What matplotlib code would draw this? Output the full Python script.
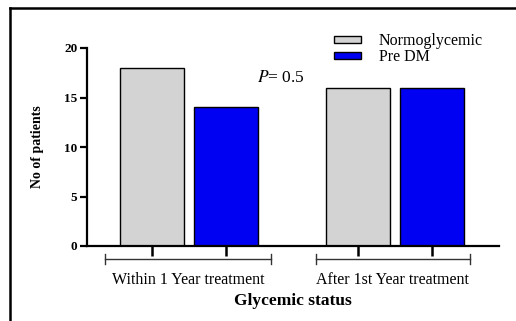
import numpy as np
import matplotlib.pyplot as plt
from matplotlib.lines import Line2D
from matplotlib.transforms import blended_transform_factory

plt.rcParams['font.family'] = ['Liberation Serif', 'DejaVu Serif']
plt.rcParams['mathtext.fontset'] = 'stix'

groups = ['Within 1 Year treatment', 'After 1st Year treatment']
series = ['Normoglycemic', 'Pre DM']
normo = [18, 16]
pre_dm = [14, 16]
colors = ['#d3d3d3', '#0000f2']
p_text = '0.5'

fig = plt.figure(figsize=(5.16, 3.21), dpi=100)
ax = fig.add_axes([87/516, 1 - 246/321, (499 - 87)/516, (246 - 48)/321])

x = np.arange(len(groups))
w = 0.31
off = 0.18
ax.bar(x - off, normo, w, color=colors[0], edgecolor='black', linewidth=1, label=series[0])
ax.bar(x + off, pre_dm, w, color=colors[1], edgecolor='black', linewidth=1, label=series[1])

ax.set_xlim(-0.495, 1.505)
ax.set_ylim(0, 20)
ax.set_yticks([0, 5, 10, 15, 20])
for s in ['top', 'right']:
    ax.spines[s].set_visible(False)
for s in ['left', 'bottom']:
    ax.spines[s].set_linewidth(1.6)
ax.tick_params(axis='y', length=5, width=1.6, labelsize=9.5, pad=2)
for t in ax.get_yticklabels():
    t.set_fontweight('bold')
ax.set_xticks(np.concatenate([x - off, x + off]))
ax.set_xticklabels([])
ax.tick_params(axis='x', length=7, width=1.8)

# group brackets and labels under the axis
tr = blended_transform_factory(ax.transData, ax.transAxes)
brackets = [(-0.41, 0.40), (0.615, 1.365)]
for (a, b), g in zip(brackets, groups):
    ax.plot([a, b], [-0.066, -0.066], color='#333333', lw=1, transform=tr, clip_on=False)
    for e in (a, b):
        ax.plot([e, e], [-0.09, -0.042], color='#333333', lw=1, transform=tr, clip_on=False)
    ax.text((a + b) / 2, -0.17, g, transform=tr, ha='center', va='center', fontsize=11.5)

ax.text(0.5, -0.28, 'Glycemic status', transform=ax.transAxes, ha='center', va='center',
        fontsize=12.5, fontweight='bold')
fig.text(37/516, 1 - 147/321, 'No of patients', rotation=90, ha='center', va='center',
         fontsize=10, fontweight='bold')

ax.text(0.33, 17.0, '$P$= ' + p_text, fontsize=12.5, ha='left', va='center')

ax.legend(loc='upper left', bbox_to_anchor=(326/516, 1 - 25/321), bbox_transform=fig.transFigure,
          frameon=False, fontsize=11.5, handlelength=1.7, handleheight=0.3,
          labelspacing=0.0, handletextpad=1.1, borderpad=0)

# frame lines of the panel
fig.add_artist(Line2D([10/516, 10/516], [0, 1 - 8/321], color='black', lw=1.8))
fig.add_artist(Line2D([10/516, 1], [1 - 8/321, 1 - 8/321], color='black', lw=1.8))

fig.savefig('out.png', dpi=100)
